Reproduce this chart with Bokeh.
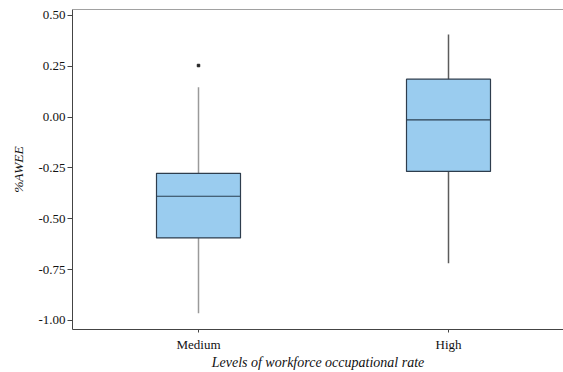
from bokeh.plotting import figure
from bokeh.models import ColumnDataSource, FixedTicker, Range1d, Span, NumeralTickFormatter
from bokeh.embed import file_html
from bokeh.resources import INLINE

categories = ["Medium", "High"]
q1 = [-0.594, -0.267]
median = [-0.389, -0.013]
q3 = [-0.276, 0.187]
whisker_low = [-0.964, -0.718]
whisker_high = [0.147, 0.407]
outlier_cat = ["Medium"]
outlier_val = [0.254]
y_ticks = [0.50, 0.25, 0.00, -0.25, -0.50, -0.75, -1.00]

xpos = [i + 1 for i in range(len(categories))]
src = ColumnDataSource(dict(x=xpos, q1=q1, med=median, q3=q3, lo=whisker_low, hi=whisker_high,
                            wc=["#9a9a9a", "#5c5c5c"]))
osrc = ColumnDataSource(dict(x=[categories.index(c) + 1 for c in outlier_cat], y=outlier_val))

Y_TOP = 0.5295
FONT = "Liberation Serif"
p = figure(width=563, height=372, output_backend="svg", toolbar_location=None,
           x_range=Range1d(0.496, 2.46), y_range=Range1d(-1.0443, Y_TOP),
           min_border_left=72, min_border_top=9, min_border_right=0, min_border_bottom=43)
p.outline_line_color = None
p.grid.visible = False
p.background_fill_color = "white"

bw = 0.336
p.segment(x0="x", y0="q3", x1="x", y1="hi", source=src, line_color="wc", line_width=1.5)
p.segment(x0="x", y0="lo", x1="x", y1="q1", source=src, line_color="wc", line_width=1.5)
p.vbar(x="x", width=bw, bottom="q1", top="q3", source=src, fill_color="#9accef",
       line_color="#2e3d4d", line_width=1.2)
p.rect(x="x", y="med", width=bw, height=0.0001, source=src, fill_alpha=0,
       line_color="#2b3f52", line_width=1.2)
p.scatter(x="x", y="y", source=osrc, marker="square", size=2.5, fill_color="#222222", line_color="#222222")

p.add_layout(Span(location=Y_TOP, dimension="width", line_color="#444444", line_width=1))

for ax in (p.xaxis[0], p.yaxis[0]):
    ax.axis_line_color = "#444444"
    ax.major_tick_line_color = "#444444"
    ax.minor_tick_line_color = None
    ax.major_label_text_font = FONT
    ax.major_label_text_font_size = "13px"
    ax.major_label_text_color = "#111111"
    ax.axis_label_text_font = FONT
    ax.axis_label_text_font_style = "italic"
    ax.axis_label_text_color = "#111111"
    ax.major_tick_in = 0

p.xaxis.ticker = FixedTicker(ticks=xpos)
p.xaxis.major_label_overrides = {x: c for x, c in zip(xpos, categories)}
p.xaxis.major_tick_out = 3
p.xaxis.major_label_standoff = 4
p.xaxis.axis_label = "Levels of workforce occupational rate"
p.xaxis.axis_label_standoff = 0
p.xaxis.axis_label_text_font_size = "14px"

p.yaxis.ticker = FixedTicker(ticks=y_ticks)
p.yaxis.formatter = NumeralTickFormatter(format="0.00")
p.yaxis.major_tick_out = 5
p.yaxis.major_label_standoff = 2
p.yaxis.axis_label = "%AWEE"
p.yaxis.axis_label_standoff = 9
p.yaxis.axis_label_text_font_size = "13.5px"

open("out.html", "w").write(file_html(p, INLINE))
